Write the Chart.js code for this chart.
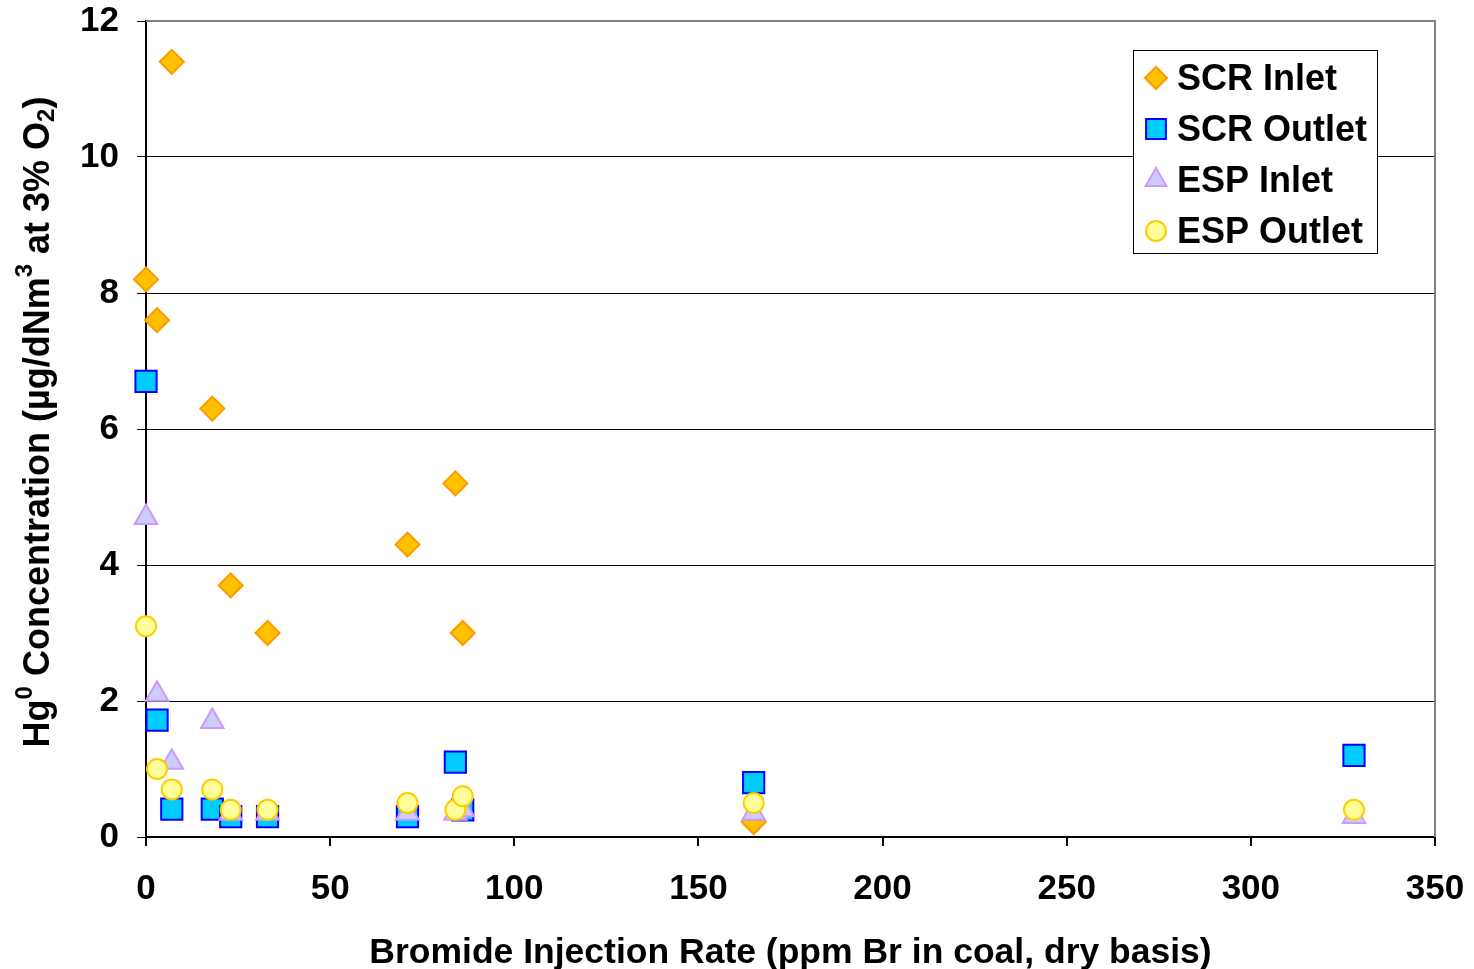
<!DOCTYPE html>
<html>
<head>
    <meta http-equiv="Content-Type" content="text/html; charset=utf-8"/>
    <title>Hg0 vs Bromide Injection</title>
    <style>
        html, body { margin: 0; padding: 0; background: #fff; }
        #wrap { width: 1474px; height: 969px; }
    </style>
</head>
<body>
    <div id="wrap">
        <canvas id="myChart" width="1474" height="969"></canvas>
    </div>
    <script src="https://cdn.jsdelivr.net/npm/chart.js"></script>
    <script>
        // bromide rate (ppm Br in coal) for each test condition
        const scrInletX  = [0, 3, 7, 18, 23, 33, 71, 84, 86, 165];
        const scrInletY  = [8.2, 7.6, 11.4, 6.3, 3.7, 3.0, 4.3, 5.2, 3.0, 0.22];

        const scrOutletX = [0, 3, 7, 18, 23, 33, 71, 84, 86, 165, 328];
        const scrOutletY = [6.7, 1.72, 0.41, 0.41, 0.3, 0.3, 0.3, 1.1, 0.4, 0.8, 1.2];

        const espInletX  = [0, 3, 7, 18, 23, 33, 71, 84, 86, 165, 328];
        const espInletY  = [4.7, 2.1, 1.1, 1.7, 0.35, 0.35, 0.35, 0.35, 0.4, 0.35, 0.3];

        const espOutletX = [0, 3, 7, 18, 23, 33, 71, 84, 86, 165, 328];
        const espOutletY = [3.1, 1.0, 0.7, 0.7, 0.4, 0.4, 0.5, 0.4, 0.6, 0.5, 0.4];

        const xTicks = [0, 50, 100, 150, 200, 250, 300, 350];
        const yTicks = [0, 2, 4, 6, 8, 10, 12];

        const FONT = '"Liberation Sans", Arial, sans-serif';

        const toPoints = (xs, ys) => xs.map((x, i) => ({x: x, y: ys[i]}));

        const datasets = [
            {
                label: 'SCR Inlet',
                data: toPoints(scrInletX, scrInletY),
                pointStyle: 'rectRot',
                pointRadius: 12,
                backgroundColor: '#ffc000',
                borderColor: '#ff9900',
                borderWidth: 2,
                clip: false,
                order: 4
            },
            {
                label: 'SCR Outlet',
                data: toPoints(scrOutletX, scrOutletY),
                pointStyle: 'rect',
                pointRadius: 15,
                backgroundColor: '#00ccff',
                borderColor: '#0000ff',
                borderWidth: 2,
                clip: false,
                order: 3
            },
            {
                label: 'ESP Inlet',
                data: toPoints(espInletX, espInletY),
                pointStyle: 'triangle',
                pointRadius: 13,
                backgroundColor: '#ccccff',
                borderColor: '#cc99ff',
                borderWidth: 2,
                clip: false,
                order: 2
            },
            {
                label: 'ESP Outlet',
                data: toPoints(espOutletX, espOutletY),
                pointStyle: 'circle',
                pointRadius: 10,
                backgroundColor: '#ffff99',
                borderColor: '#ffcc00',
                borderWidth: 2,
                clip: false,
                order: 1
            }
        ];

        // y title with real super/subscripts, drawn rotated
        const yTitleParts = [
            {t: 'Hg', sz: 36, dy: 0},
            {t: '0', sz: 24, dy: -14},
            {t: ' Concentration (\u00b5g/dNm', sz: 36, dy: 0},
            {t: '3', sz: 24, dy: -14},
            {t: ' at 3% O', sz: 36, dy: 0},
            {t: '2', sz: 24, dy: 8},
            {t: ')', sz: 36, dy: 0}
        ];

        // gray frame round the plot + boxed legend inside the plot + y title
        const framePlugin = {
            id: 'frame',
            beforeDatasetsDraw(chart) {
                const a = chart.chartArea;
                const ctx = chart.ctx;
                ctx.save();
                ctx.strokeStyle = '#808080';
                ctx.lineWidth = 2;
                ctx.beginPath();
                ctx.moveTo(a.left, a.top);
                ctx.lineTo(a.right, a.top);
                ctx.lineTo(a.right, a.bottom);
                ctx.stroke();
                ctx.restore();
            },
            afterDraw(chart) {
                const ctx = chart.ctx;
                const a = chart.chartArea;

                // y axis title
                ctx.save();
                let total = 0;
                yTitleParts.forEach(p => {
                    ctx.font = 'bold ' + p.sz + 'px ' + FONT;
                    p.w = ctx.measureText(p.t).width;
                    total += p.w;
                });
                ctx.translate(38, (a.top + a.bottom) / 2 - 7);
                ctx.rotate(-Math.PI / 2);
                ctx.fillStyle = '#000';
                ctx.textBaseline = 'middle';
                let px = -total / 2;
                yTitleParts.forEach(p => {
                    ctx.font = 'bold ' + p.sz + 'px ' + FONT;
                    ctx.fillText(p.t, px, 1 + p.dy);
                    px += p.w;
                });
                ctx.restore();

                // legend
                const box = {x: 1133, y: 50, w: 244, h: 203};
                ctx.save();
                ctx.fillStyle = '#fff';
                ctx.fillRect(box.x, box.y, box.w, box.h);
                ctx.strokeStyle = '#000';
                ctx.lineWidth = 1;
                ctx.strokeRect(box.x + 0.5, box.y + 0.5, box.w, box.h);
                ctx.font = 'bold 36px ' + FONT;
                ctx.textBaseline = 'middle';
                const legendR = [11, 14, 12, 10];
                chart.data.datasets.forEach((ds, i) => {
                    const cy = box.y + 28 + i * 51;
                    ctx.fillStyle = ds.backgroundColor;
                    ctx.strokeStyle = ds.borderColor;
                    ctx.lineWidth = 2;
                    Chart.helpers.drawPoint(ctx, {pointStyle: ds.pointStyle, radius: legendR[i], rotation: 0, borderWidth: 2}, 1156, cy);
                    ctx.fillStyle = '#000';
                    ctx.fillText(ds.label, 1177, cy + 2);
                });
                ctx.restore();
            }
        };

        const config = {
            type: 'scatter',
            data: {datasets: datasets},
            options: {
                responsive: false,
                animation: false,
                layout: {padding: {top: 21, right: 39, left: 0, bottom: 0}},
                plugins: {
                    legend: {display: false},
                    tooltip: {enabled: false}
                },
                scales: {
                    x: {
                        type: 'linear',
                        min: 0,
                        max: 350,
                        afterBuildTicks: (s) => { s.ticks = xTicks.map(v => ({value: v})); },
                        afterFit: (s) => { s.height = 132; s.paddingLeft = 0; s.paddingRight = 0; },
                        grid: {drawOnChartArea: false, drawTicks: true, tickLength: 9, color: '#000', lineWidth: 2},
                        border: {color: '#000', width: 2},
                        ticks: {color: '#000', padding: 22, font: {family: FONT, size: 35, weight: 'bold'}},
                        title: {
                            display: true,
                            text: 'Bromide Injection Rate (ppm Br in coal, dry basis)',
                            color: '#000',
                            font: {family: FONT, size: 35.5, weight: 'bold'},
                            padding: {top: 16, bottom: -6}
                        }
                    },
                    y: {
                        min: 0,
                        max: 12,
                        afterBuildTicks: (s) => { s.ticks = yTicks.map(v => ({value: v})); },
                        afterFit: (s) => { s.width = 146; s.paddingTop = 0; s.paddingBottom = 0; },
                        grid: {color: '#000', lineWidth: 1, tickLength: 9},
                        border: {color: '#000', width: 2},
                        ticks: {color: '#000', padding: 18, font: {family: FONT, size: 35, weight: 'bold'}}
                    }
                }
            },
            plugins: [framePlugin]
        };

        const myChart = new Chart(document.getElementById('myChart'), config);
    </script>
</body>
</html>
